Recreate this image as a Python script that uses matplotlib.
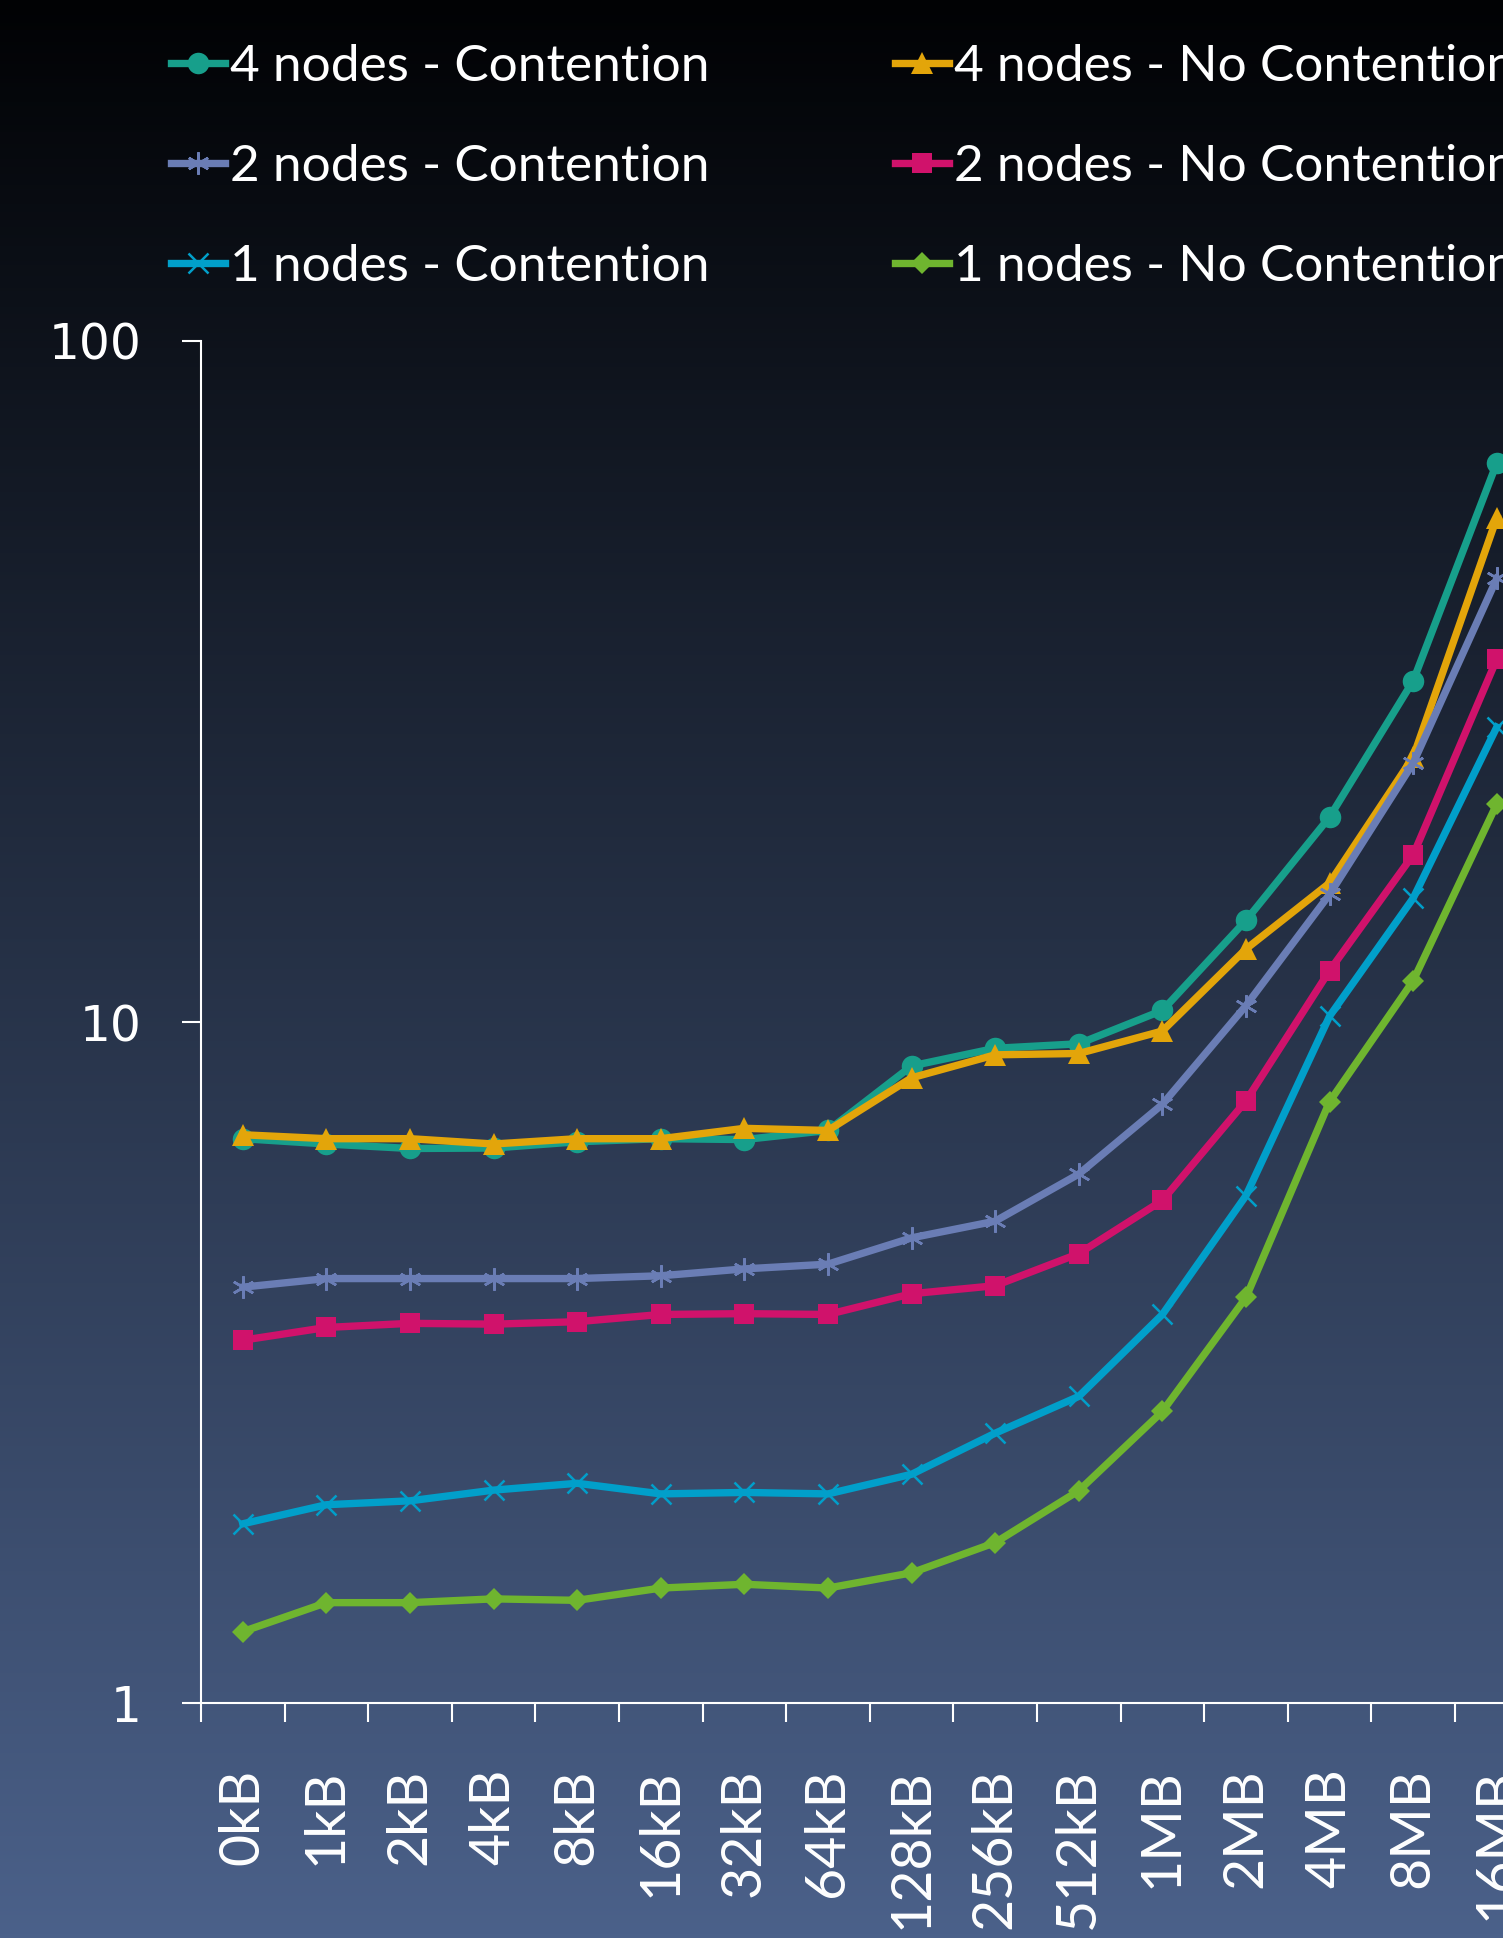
import numpy as np
import matplotlib
matplotlib.use("Agg")
import matplotlib.pyplot as plt

plt.rcParams['font.family'] = ['Lato', 'DejaVu Sans']

# message size buckets and measured values (log scale)
sizes = ['0kB', '1kB', '2kB', '4kB', '8kB', '16kB', '32kB', '64kB',
         '128kB', '256kB', '512kB', '1MB', '2MB', '4MB', '8MB', '16MB']

c4 = [6.74, 6.62, 6.52, 6.53, 6.67, 6.74, 6.72, 6.93,
      8.62, 9.15, 9.29, 10.4, 14.1, 20.0, 31.7, 66.2]
nc4 = [6.83, 6.74, 6.74, 6.62, 6.74, 6.74, 6.98, 6.93,
       8.28, 8.95, 8.99, 9.70, 12.8, 16.0, 24.5, 55.0]
c2 = [4.08, 4.20, 4.20, 4.20, 4.20, 4.24, 4.34, 4.41,
      4.82, 5.10, 5.98, 7.57, 10.57, 15.4, 24.0, 44.8]
nc2 = [3.41, 3.56, 3.61, 3.60, 3.63, 3.72, 3.73, 3.72,
       3.99, 4.10, 4.57, 5.47, 7.66, 11.9, 17.6, 34.1]
c1 = [1.833, 1.955, 1.981, 2.054, 2.102, 2.028, 2.038, 2.028,
      2.167, 2.49, 2.82, 3.72, 5.56, 10.2, 15.2, 27.1]
nc1 = [1.273, 1.404, 1.404, 1.422, 1.415, 1.475, 1.494, 1.475,
       1.553, 1.72, 2.05, 2.68, 3.94, 7.64, 11.5, 20.9]

series = [
    ("4 nodes - Contention", c4, '#179f8b', 'o', 15.5),
    ("4 nodes - No Contention", nc4, '#e3a50a', '^', 16),
    ("2 nodes - Contention", c2, '#6a7db5', (6, 2, 0), 16),
    ("2 nodes - No Contention", nc2, '#d0126b', 's', 15),
    ("1 nodes - Contention", c1, '#019fca', 'x', 15),
    ("1 nodes - No Contention", nc1, '#6fb52f', 'D', 11),
]

W, H = 1503, 1938
fig = plt.figure(figsize=(W / 100, H / 100), dpi=100)

# dark-to-slate vertical gradient behind everything
bg = fig.add_axes([0, 0, 1, 1], zorder=-10)
grad = np.linspace(0, 1, 512)[:, None]
top = np.array([1, 2, 4]) / 255
bot = np.array([75, 97, 138]) / 255
img = top[None, None, :] * (1 - grad[..., None]) + bot[None, None, :] * grad[..., None]
bg.imshow(img, aspect='auto', extent=[0, 1, 0, 1])
bg.axis('off')

# plot area runs past the right edge of the figure
x0, y0 = 201 / W, 235 / H
ax = fig.add_axes([x0, y0, 1337.6 / W, 1362 / H])
ax.set_facecolor('none')

x = np.arange(len(sizes))
handles = []
for label, vals, col, mk, ms in series:
    line_marker = mk in ('x', (6, 2, 0))
    h, = ax.plot(x, vals, color=col, lw=5.3, marker=mk, ms=ms,
                 mew=1.8 if line_marker else 0, mec=col, mfc=col,
                 label=label, solid_joinstyle='round')
    handles.append(h)

ax.set_yscale('log')
ax.set_ylim(1, 100)
ax.set_xlim(-0.5, len(sizes) - 0.5)

for s in ('top', 'right'):
    ax.spines[s].set_visible(False)
for s in ('left', 'bottom'):
    ax.spines[s].set_color('white')
    ax.spines[s].set_linewidth(1.5)

ax.set_yticks([1, 10, 100])
ax.set_yticklabels(['1', '10', '100'], family='DejaVu Sans', fontsize=35)
ax.yaxis.set_minor_locator(matplotlib.ticker.NullLocator())
ax.tick_params(axis='y', which='major', direction='out', length=14, width=1.5,
               color='white', labelcolor='white', pad=29)

# tick marks between categories, labels centred under each point
ax.set_xticks(np.arange(len(sizes) + 1) - 0.5)
ax.set_xticklabels([])
ax.set_xticks(x, minor=True)
ax.set_xticklabels(sizes, minor=True, rotation=90, fontsize=40)
ax.tick_params(axis='x', which='major', direction='out', length=14, width=1.5,
               color='white')
ax.tick_params(axis='x', which='minor', length=0, labelcolor='white', pad=47)

order = [0, 2, 4, 1, 3, 5]
leg = fig.legend([handles[i] for i in order], [series[i][0] for i in order],
                 ncol=2, loc='upper left', bbox_to_anchor=(171 / W, 1 - 44 / H),
                 frameon=False, fontsize=37, handlelength=1.05,
                 handletextpad=0.1, columnspacing=3.6, labelspacing=1.05,
                 borderpad=0, borderaxespad=0, numpoints=1)
for t in leg.get_texts():
    t.set_color('white')

fig.savefig('out.png', dpi=100)
